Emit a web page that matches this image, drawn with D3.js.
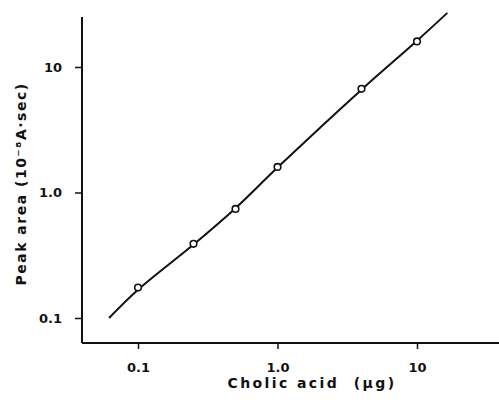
<!DOCTYPE html>
<html>
<head>
<meta charset="utf-8">
<script src="https://cdn.jsdelivr.net/npm/d3@7"></script>
<style>
  body { margin: 0; background: #fff; }
  text { font-family: "DejaVu Sans", sans-serif; font-weight: bold; fill: #111; }
</style>
</head>
<body>
<div id="chart"></div>
<script>
// measured points
var amount = [0.1, 0.25, 0.5, 1.0, 4, 10];
var peakArea = [0.175, 0.39, 0.74, 1.6, 6.7, 16];

// drawn calibration line
var lineX = [0.062, 0.1, 0.25, 0.5, 1.0, 4, 10, 16.5];
var lineY = [0.1, 0.168, 0.385, 0.75, 1.58, 6.6, 16.2, 27];

var xTicks = [0.1, 1, 10];
var xTickLabels = ['0.1', '1.0', '10'];
var yTicks = [0.1, 1, 10];
var yTickLabels = ['0.1', '1.0', '10'];

var W = 499, H = 403;
var frame = { left: 82, top: 17, right: 499, bottom: 343 };

var svg = d3.select('#chart')
  .append('svg')
  .attr('width', W)
  .attr('height', H);

// log scales
var xScale = d3.scaleLog().domain([0.1, 10]).range([138, 417]);
var yScale = d3.scaleLog().domain([0.1, 10]).range([318, 67]);

// frame lines
svg.append('line')
  .attr('x1', frame.left).attr('x2', frame.left)
  .attr('y1', frame.top).attr('y2', frame.bottom)
  .attr('stroke', '#111').attr('stroke-width', 2);
svg.append('line')
  .attr('x1', frame.left).attr('x2', frame.right)
  .attr('y1', frame.bottom).attr('y2', frame.bottom)
  .attr('stroke', '#111').attr('stroke-width', 2);

// x axis
var axisX = d3.axisBottom(xScale)
  .tickValues(xTicks)
  .tickSize(6)
  .tickPadding(14)
  .tickFormat(function (d, i) { return xTickLabels[i]; });

svg.append('g')
  .attr('class', 'axisX')
  .attr('transform', 'translate(0,' + frame.bottom + ')')
  .call(axisX);

// y axis
var axisY = d3.axisLeft(yScale)
  .tickValues(yTicks)
  .tickSize(7)
  .tickPadding(13)
  .tickFormat(function (d, i) { return yTickLabels[i]; });

svg.append('g')
  .attr('class', 'axisY')
  .attr('transform', 'translate(' + frame.left + ',0)')
  .call(axisY);

d3.selectAll('.domain').remove();
svg.selectAll('.tick line').attr('stroke', '#111').attr('stroke-width', 1.5);
svg.selectAll('.tick text')
  .style('font-size', '13px')
  .style('font-family', '"DejaVu Sans", sans-serif')
  .style('font-weight', 'bold')
  .attr('fill', '#111');

// line
var linePath = d3.line()
  .x(function (d) { return xScale(d[0]); })
  .y(function (d) { return yScale(d[1]); })
  .curve(d3.curveCatmullRom);

svg.append('path')
  .attr('d', linePath(d3.zip(lineX, lineY)))
  .attr('fill', 'none')
  .attr('stroke', '#111')
  .attr('stroke-width', 2);

// points
svg.append('g')
  .selectAll('circle')
  .data(d3.zip(amount, peakArea))
  .enter()
  .append('circle')
  .attr('cx', function (d) { return xScale(d[0]); })
  .attr('cy', function (d) { return yScale(d[1]); })
  .attr('r', 3.3)
  .attr('fill', '#fff')
  .attr('stroke', '#111')
  .attr('stroke-width', 1.6);

// axis titles
svg.append('text')
  .attr('x', 312)
  .attr('y', 388)
  .attr('text-anchor', 'middle')
  .style('font-size', '14px')
  .style('letter-spacing', '2.4px')
  .style('white-space', 'pre')
  .text('Cholic acid  (μg)');

svg.append('text')
  .attr('transform', 'translate(26,184) rotate(-90)')
  .attr('text-anchor', 'middle')
  .style('font-size', '14px')
  .style('letter-spacing', '1.5px')
  .text('Peak area (10⁻⁸A·sec)');
</script>
</body>
</html>
